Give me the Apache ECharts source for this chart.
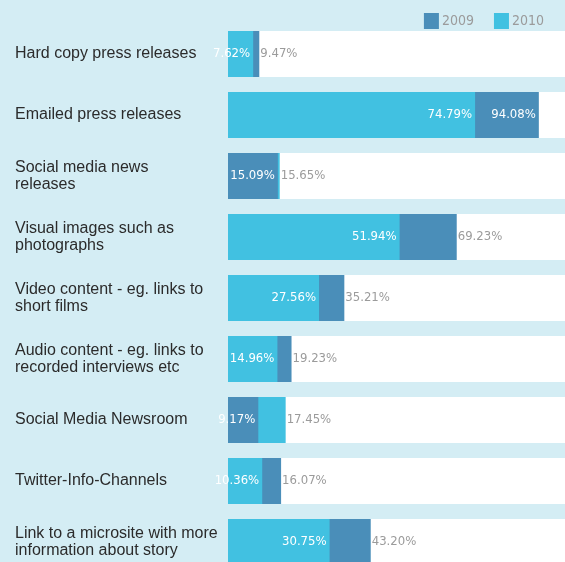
<!DOCTYPE html>
<html>
<head>
<meta charset="utf-8">
<script src="https://cdn.jsdelivr.net/npm/echarts@6/dist/echarts.min.js"></script>
<style>
  html, body { margin: 0; padding: 0; background: #d4edf4; }
  #chart { width: 565px; height: 562px; }
</style>
</head>
<body>
<div id="chart"></div>
<script>
// Share of respondents using each content type, by year
const categories = [
  'Hard copy press releases',
  'Emailed press releases',
  'Social media news\nreleases',
  'Visual images such as\nphotographs',
  'Video content - eg. links to\nshort films',
  'Audio content - eg. links to\nrecorded interviews etc',
  'Social Media Newsroom',
  'Twitter-Info-Channels',
  'Link to a microsite with more\ninformation about story'
];
const values2009 = [9.47, 94.08, 15.09, 69.23, 35.21, 19.23, 9.17, 16.07, 43.20];
const values2010 = [7.62, 74.79, 15.65, 51.94, 27.56, 14.96, 17.45, 10.36, 30.75];
const years = ['2009', '2010'];

const COLOR_2009 = '#4a8eb9';
const COLOR_2010 = '#41c1e1';
const AXIS_MAX = 102;
const LABEL_FONT = '"Liberation Sans Narrow", "DejaVu Sans Condensed", sans-serif';

const fmt = v => v.toFixed(2) + '%';

const insideLabel = {
  show: true, position: 'insideRight', distance: 3,
  color: '#ffffff', fontFamily: LABEL_FONT, fontSize: 13,
  formatter: p => fmt(p.value)
};
const outsideLabel = {
  show: true, position: 'right', distance: 1,
  color: '#9b9b9b', fontFamily: LABEL_FONT, fontSize: 13,
  formatter: p => fmt(p.value)
};

// The larger of the two values sits behind, the smaller one in front.
function layerData(own, other, front) {
  return own.map((v, i) => {
    const isFront = v < other[i];
    if (isFront !== front) return null;
    let label = front ? insideLabel : outsideLabel;
    // a long bar keeps its label inside
    if (!front && v > 85) label = insideLabel;
    return { value: v, label: label };
  });
}

const barBase = {
  type: 'bar',
  barWidth: 46,
  barGap: '-100%',
  animation: false
};

const series = [
  Object.assign({}, barBase, {
    name: years[0], z: 2,
    itemStyle: { color: COLOR_2009 },
    showBackground: true,
    backgroundStyle: { color: '#ffffff' },
    data: layerData(values2009, values2010, false)
  }),
  Object.assign({}, barBase, {
    name: years[1], z: 2,
    itemStyle: { color: COLOR_2010 },
    data: layerData(values2010, values2009, false)
  }),
  Object.assign({}, barBase, {
    name: years[0], z: 3,
    itemStyle: { color: COLOR_2009 },
    data: layerData(values2009, values2010, true)
  }),
  Object.assign({}, barBase, {
    name: years[1], z: 3,
    itemStyle: { color: COLOR_2010 },
    data: layerData(values2010, values2009, true)
  })
];

const chart = echarts.init(document.getElementById('chart'), null, { renderer: 'canvas' });
chart.setOption({
  backgroundColor: '#d4edf4',
  animation: false,
  legend: {
    data: years,
    right: 16,
    top: 8,
    icon: 'rect',
    itemWidth: 15,
    itemHeight: 16,
    itemGap: 20,
    textStyle: { color: '#9b9b9b', fontFamily: LABEL_FONT, fontSize: 14, padding: [0, 0, 0, -2] },
    selectedMode: false
  },
  grid: {
    left: 228,
    right: 0,
    top: 23.5,
    height: 549,
    outerBoundsMode: 'none',
    containLabel: false
  },
  xAxis: {
    type: 'value',
    min: 0,
    max: AXIS_MAX,
    show: false
  },
  yAxis: {
    type: 'category',
    inverse: true,
    data: categories,
    axisLine: { show: false },
    axisTick: { show: false },
    splitLine: { show: false },
    axisLabel: {
      align: 'left',
      margin: 213,
      color: '#2b2b2b',
      fontFamily: '"Liberation Sans", Arial, sans-serif',
      fontSize: 16,
      lineHeight: 17
    }
  },
  series: series
});
</script>
</body>
</html>
